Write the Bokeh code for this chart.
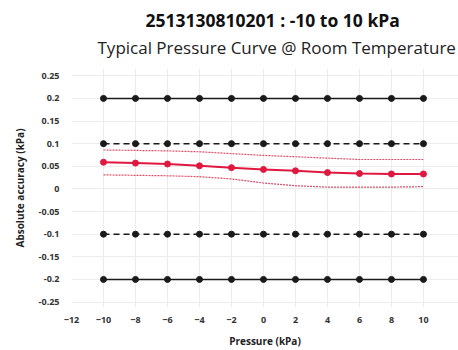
from bokeh.plotting import figure
from bokeh.models import FixedTicker, Title, CustomJSTickFormatter, Range1d
from bokeh.embed import file_html
from bokeh.resources import INLINE

# ---- data ----
pressure = [-10, -8, -6, -4, -2, 0, 2, 4, 6, 8, 10]
upper_spec = [0.2, 0.2, 0.2, 0.2, 0.2, 0.2, 0.2, 0.2, 0.2, 0.2, 0.2]
lower_spec = [-0.2, -0.2, -0.2, -0.2, -0.2, -0.2, -0.2, -0.2, -0.2, -0.2, -0.2]
upper_typ = [0.1, 0.1, 0.1, 0.1, 0.1, 0.1, 0.1, 0.1, 0.1, 0.1, 0.1]
lower_typ = [-0.1, -0.1, -0.1, -0.1, -0.1, -0.1, -0.1, -0.1, -0.1, -0.1, -0.1]
accuracy = [0.059, 0.057, 0.055, 0.051, 0.047, 0.043, 0.040, 0.036, 0.034, 0.033, 0.033]
acc_upper = [0.086, 0.085, 0.084, 0.082, 0.078, 0.074, 0.071, 0.068, 0.065, 0.065, 0.065]
acc_lower = [0.031, 0.030, 0.029, 0.027, 0.022, 0.013, 0.007, 0.004, 0.004, 0.004, 0.005]
x_ticks = [-12, -10, -8, -6, -4, -2, 0, 2, 4, 6, 8, 10]
y_ticks = [-0.25, -0.2, -0.15, -0.1, -0.05, 0, 0.05, 0.1, 0.15, 0.2, 0.25]

FONT = "Open Sans"

p = figure(width=458, height=350, output_backend="svg", toolbar_location=None,
           x_range=Range1d(-12, 12.19), y_range=Range1d(-0.262, 0.266),
           min_border_left=71, min_border_right=0, min_border_top=68, min_border_bottom=0)
p.background_fill_color = "white"
p.border_fill_color = "white"
p.outline_line_color = None

spacer = Title(text=" ", text_font=FONT, text_font_size="1px", standoff=7)
sub = Title(text="Typical Pressure Curve @ Room Temperature", align="left", offset=26,
            text_font=FONT, text_font_size="17px", text_font_style="normal",
            text_color="#222222", standoff=0)
main = Title(text="2513130810201 : -10 to 10 kPa", align="left", offset=74,
             text_font=FONT, text_font_size="17.5px", text_font_style="bold",
             text_color="#111111", standoff=3)
p.add_layout(spacer, "above")
p.add_layout(sub, "above")
p.add_layout(main, "above")

# axes
for ax in (p.xaxis[0], p.yaxis[0]):
    ax.axis_line_color = None
    ax.major_tick_line_color = None
    ax.minor_tick_line_color = None
    ax.major_tick_out = 0
    ax.major_tick_in = 0
    ax.major_label_text_font = FONT
    ax.major_label_text_font_size = "9px"
    ax.major_label_text_font_style = "bold"
    ax.major_label_text_color = "#333333"
    ax.axis_label_text_font = FONT
    ax.axis_label_text_font_size = "10px"
    ax.axis_label_text_font_style = "bold"
    ax.axis_label_text_color = "#222222"

p.xaxis.ticker = FixedTicker(ticks=x_ticks)
p.yaxis.ticker = FixedTicker(ticks=y_ticks)
p.yaxis.formatter = CustomJSTickFormatter(code="return Number(tick.toFixed(2)).toString();")
p.xaxis.axis_label = "Pressure (kPa)"
p.yaxis.axis_label = "Absolute accuracy (kPa)"
p.xaxis.major_label_standoff = 9
p.yaxis.major_label_standoff = 12
p.xaxis.axis_label_standoff = 8
p.yaxis.axis_label_standoff = 9

p.xgrid.ticker = FixedTicker(ticks=x_ticks)
p.ygrid.ticker = FixedTicker(ticks=y_ticks)
p.xgrid.grid_line_color = "#ececec"
p.ygrid.grid_line_color = "#ececec"

# black limit lines
for ys, dash in ((upper_spec, "solid"), (lower_spec, "solid"), (upper_typ, "6 4"), (lower_typ, "6 4")):
    p.line(pressure, ys, line_color="#1a1a1a", line_width=1.5, line_dash=dash)
    p.scatter(pressure, ys, size=6, fill_color="#1a1a1a", line_color="#1a1a1a")

# red series
p.line(pressure, acc_upper, line_color="#d8506a", line_width=1.2, line_dash="2 1")
p.line(pressure, acc_lower, line_color="#d8506a", line_width=1.2, line_dash="2 1")
p.line(pressure, accuracy, line_color="#e0173f", line_width=2)
p.scatter(pressure, accuracy, size=6, fill_color="#e0173f", line_color="#e0173f")

open("out.html", "w").write(file_html(p, INLINE))
